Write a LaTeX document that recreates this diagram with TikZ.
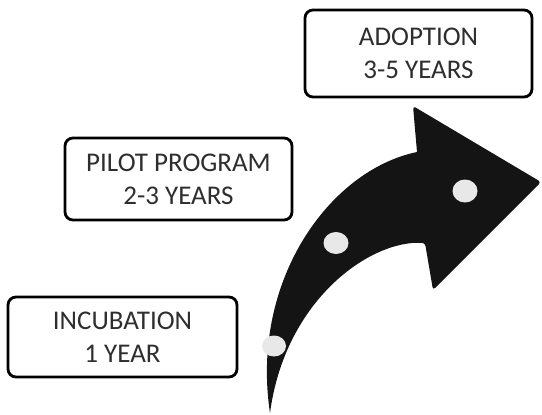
\documentclass[tikz,border=0pt]{standalone}
\usepackage{fontspec}
\setmainfont{Carlito}
\usetikzlibrary{positioning}

\begin{document}
\begin{tikzpicture}[
    x=1pt, y=-1pt,
    stage/.style={
        draw=black,
        line width=2.8pt,
        rounded corners=8pt,
        fill=white,
        text=black!82,
        align=center,
        font=\fontsize{27}{33}\selectfont
    },
    arrowfill/.style={fill=black!92},
    dotfill/.style={fill=gray!18}
]
\useasboundingbox (0,0) rectangle (542,415);

% stage boxes
\node[stage, minimum width=229pt, minimum height=80pt] (incub) at (122.5,337)
{INCUBATION\\1 YEAR};
\node[stage, minimum width=227pt, minimum height=82pt] (pilot) at (178.5,179)
{PILOT PROGRAM\\2-3 YEARS};
\node[stage, minimum width=227pt, minimum height=87pt] (adopt) at (418.5,53.5)
{ADOPTION\\3-5 YEARS};

% curved arrow
\fill[arrowfill] (270,413) .. controls (250,280) and (330,170) .. (417,152)
    [rounded corners=3pt] -- (413,106) -- (541,182) -- (433,290) -- (425,243)
    [sharp corners] .. controls (370,240) and (285,300) .. (270,413) -- cycle;

% milestones on the arrow
\fill[dotfill] (274,346) ellipse [x radius=12pt, y radius=10.5pt];
\fill[dotfill] (336,243) ellipse [x radius=12.5pt, y radius=11pt];
\fill[dotfill] (465,191) ellipse [x radius=12.5pt, y radius=11.5pt];

\end{tikzpicture}
\end{document}
